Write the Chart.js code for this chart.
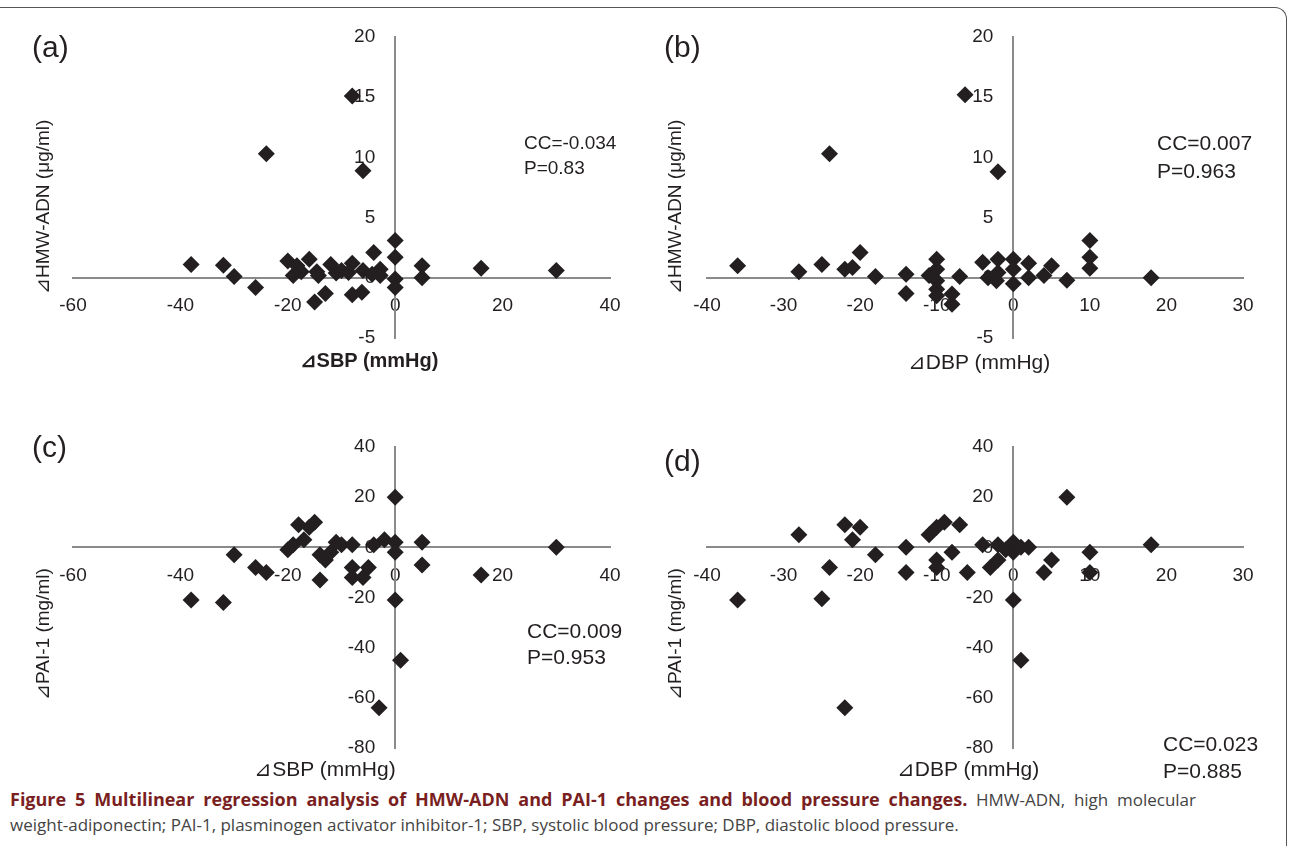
<!DOCTYPE html>
<html><head><meta charset="utf-8">
<script src="https://cdn.jsdelivr.net/npm/chart.js@4.4.1/dist/chart.umd.min.js"></script>
<style>
html,body{margin:0;padding:0;background:#fff;}
#page{position:relative;width:1293px;height:852px;overflow:hidden;font-family:"Liberation Sans",Arial,sans-serif;color:#231f20;}
canvas{position:absolute;}
.t{position:absolute;white-space:nowrap;line-height:1;}
.frame{position:absolute;left:0px;top:7px;width:1286px;height:838px;border:1.5px solid #555;border-radius:0 12px 0 0;border-bottom:none;border-left:none;}
.cap{position:absolute;left:10px;font-family:"Open Sans",sans-serif;font-size:17px;color:#444;white-space:nowrap;}
.just{width:1186px;text-align:justify;text-align-last:justify;white-space:normal;}
</style></head>
<body><div id="page">
<div class="frame"></div>
<canvas id="ca"></canvas><canvas id="cb"></canvas><canvas id="cc"></canvas><canvas id="cd"></canvas>
</div>
<script>
// ---- data ----
const aSBP = [-38,-32,-30,-26,-20,-19,-18.3,-16,-17.5,-14.6,-14.3,-15,-13,-12,-11,-10,-8,-8.7,-8,-6.2,-6,-4.3,-4,-2.8,-2.8,0,0,0,0,5,5,16,30,-24,-8,-6];
const aADN = [1.1,1.05,0.1,-0.8,1.4,0.2,1.0,1.55,0.5,0.5,0.2,-2.0,-1.3,1.1,0.4,0.6,1.2,0.45,-1.4,-1.2,0.6,0.3,2.1,0.7,0.2,3.1,1.7,-0.1,-0.8,1.0,0.0,0.8,0.6,10.3,15.1,8.9];
const bDBP = [-36,-28,-25,-22,-21,-20,-18,-14,-14,-11,-10,-10,-10,-10,-10,-8,-8,-7,-4,-3.3,-2,-2,-2.2,0,0,0,2,2,4,5,7,10,10,10,18,-24,-6.3,-2];
const bADN = [1.0,0.5,1.1,0.7,0.85,2.1,0.1,0.3,-1.3,0.2,1.55,0.7,-0.25,-0.95,-1.5,-1.35,-2.2,0.1,1.3,0.0,1.55,0.45,-0.25,1.55,0.7,-0.5,1.2,0.0,0.2,1.0,-0.2,3.1,1.7,0.8,0.0,10.3,15.2,8.8];
const cSBP = [-38,-32,-30,-26,-24,-20,-19,-18,-17,-16,-15,-14,-14,-13,-12,-11,-10,-8,-8,-8,-6,-5,-4,-2,0,0,0,0,1,-3,5,5,16,30];
const cPAI = [-21,-22,-3,-8,-10,-1,1,9,3,8,10,-3,-13,-5,-2,2,1,-8,-12,1,-12,-8,1,3,20,-21,2,-2,-45,-64,2,-7,-11,0];
const dDBP = [-36,-28,-25,-24,-22,-21,-20,-18,-14,-14,-11,-10,-10,-10,-9,-8,-7,-6,-4,-3,-2,-2,-1,0,0,0,1,2,4,5,7,10,10,18,-22,1];
const dPAI = [-21,5,-20.5,-8,9,3,8,-3,-10,0,5,8,-5,-8,10,-2,9,-10,1,-8,-5,1,-1,2,-2,-21,0,0,-10,-5,20,-2,-10,1,-64,-45];
const FONT = '"Liberation Sans", Arial, sans-serif';
const tickFont = {family:FONT, size:19};

// y tick labels drawn beside the crossing axis (under the markers)
const yLabelPlugin = {
  id:'yLabels',
  beforeDatasetsDraw(chart){
    const ys = chart.scales.y, xs = chart.scales.x, ctx = chart.ctx;
    const x0 = xs.getPixelForValue(0);
    ctx.save();
    ctx.font = '19px ' + FONT; ctx.fillStyle = '#231f20';
    ctx.textAlign = 'right'; ctx.textBaseline = 'middle';
    ys.ticks.forEach(t => ctx.fillText(String(t.value), x0 - 20, ys.getPixelForValue(t.value)));
    ctx.restore();
  }
};
function zeroPad(s){ s.paddingTop = 0; s.paddingBottom = 0; s.paddingLeft = 0; s.paddingRight = 0; }

function mk(id, box, area, xs, ys, xr, yr){
  const cv = document.getElementById(id);
  cv.style.left = box[0]+'px'; cv.style.top = box[1]+'px';
  cv.width = box[2]; cv.height = box[3];
  cv.style.width = box[2]+'px'; cv.style.height = box[3]+'px';
  const pad = {left: area[0]-box[0], top: area[1]-box[1], right: box[0]+box[2]-area[2], bottom: box[1]+box[3]-area[3]};
  const pts = xs.map((x,i)=>({x:x, y:ys[i]}));
  new Chart(cv, {
    type:'scatter',
    data:{datasets:[{data:pts, pointStyle:'rectRot', radius:8.5, backgroundColor:'#231f20', borderColor:'#231f20', borderWidth:0, hoverRadius:8.5}]},
    options:{
      responsive:false, animation:false, devicePixelRatio:1,
      layout:{padding:pad},
      plugins:{legend:{display:false}, tooltip:{enabled:false}},
      scales:{
        x:{type:'linear', min:xr[0], max:xr[1], position:{y:0}, afterFit:zeroPad,
           grid:{display:false, drawTicks:false}, border:{display:true, color:'#8a8a8a', width:2},
           ticks:{stepSize:xr[2], font:tickFont, color:'#231f20', padding:17, maxRotation:0, autoSkip:false}},
        y:{type:'linear', min:yr[0], max:yr[1], position:{x:0}, afterFit:zeroPad,
           grid:{display:false, drawTicks:false}, border:{display:true, color:'#8a8a8a', width:2},
           ticks:{stepSize:yr[2], display:false, autoSkip:false}}
      }
    },
    plugins:[yLabelPlugin]
  });
}
// box: canvas [left, top, width, height]; area: chart area [left, top, right, bottom] in page px
mk('ca',[10,10,630,360],[73,37,610,338], aSBP, aADN, [-60,40,20], [-5,20,5]);
mk('cb',[655,10,630,360],[707,37,1243,338], bDBP, bADN, [-40,30,10], [-5,20,5]);
mk('cc',[10,420,630,360],[73,447,610,748], cSBP, cPAI, [-60,40,20], [-80,40,20]);
mk('cd',[655,420,630,360],[707,447,1243,748], dDBP, dPAI, [-40,30,10], [-80,40,20]);
</script>
<script>
const P = document.getElementById('page');
function txt(s, x, y, size, opts={}){
  const d = document.createElement('div'); d.className='t'; d.textContent = s;
  d.style.fontSize = size+'px';
  if (opts.bold) d.style.fontWeight='bold';
  d.style.left = x+'px'; d.style.top = y+'px';
  if (opts.rot){ d.style.transformOrigin='0 0'; d.style.transform='rotate(-90deg)'; }
  if (opts.center){ d.style.transform='translateX(-50%)'; }
  P.appendChild(d); return d;
}
txt('(a)', 32, 32, 30);
txt('(b)', 664, 32, 30);
txt('(c)', 32, 432, 30);
txt('(d)', 664, 446, 30);
txt('CC=-0.034', 524, 133, 19);
txt('P=0.83', 524, 158, 19);
txt('CC=0.007', 1157, 132, 21);
txt('P=0.963', 1157, 160, 21);
txt('CC=0.009', 527, 620, 21);
txt('P=0.953', 527, 646, 21);
txt('CC=0.023', 1163, 733, 21);
txt('P=0.885', 1163, 760, 21);
txt('\u22BFHMW-ADN (\u03BCg/ml)', 33, 294, 19, {rot:true});
txt('\u22BFHMW-ADN (\u03BCg/ml)', 665, 294, 19, {rot:true});
txt('\u22BFPAI-1 (mg/ml)', 33, 700, 19, {rot:true});
txt('\u22BFPAI-1 (mg/ml)', 665, 700, 19, {rot:true});
txt('\u22BFSBP (mmHg)', 369, 350, 20, {bold:true, center:true});
txt('\u22BFDBP (mmHg)', 979, 351, 21, {center:true});
txt('\u22BFSBP (mmHg)', 325, 758, 21, {center:true});
txt('\u22BFDBP (mmHg)', 968, 758, 21, {center:true});
const c1 = document.createElement('div'); c1.className='cap just'; c1.style.top='787px';
c1.innerHTML = '<b style="color:#7a1f1f;font-size:18px">Figure 5 Multilinear regression analysis of HMW-ADN and PAI-1 changes and blood pressure changes.</b> HMW-ADN, high molecular';
P.appendChild(c1);
const c2 = document.createElement('div'); c2.className='cap'; c2.style.top='813px';
c2.textContent = 'weight-adiponectin; PAI-1, plasminogen activator inhibitor-1; SBP, systolic blood pressure; DBP, diastolic blood pressure.';
P.appendChild(c2);
</script>
</body></html>
